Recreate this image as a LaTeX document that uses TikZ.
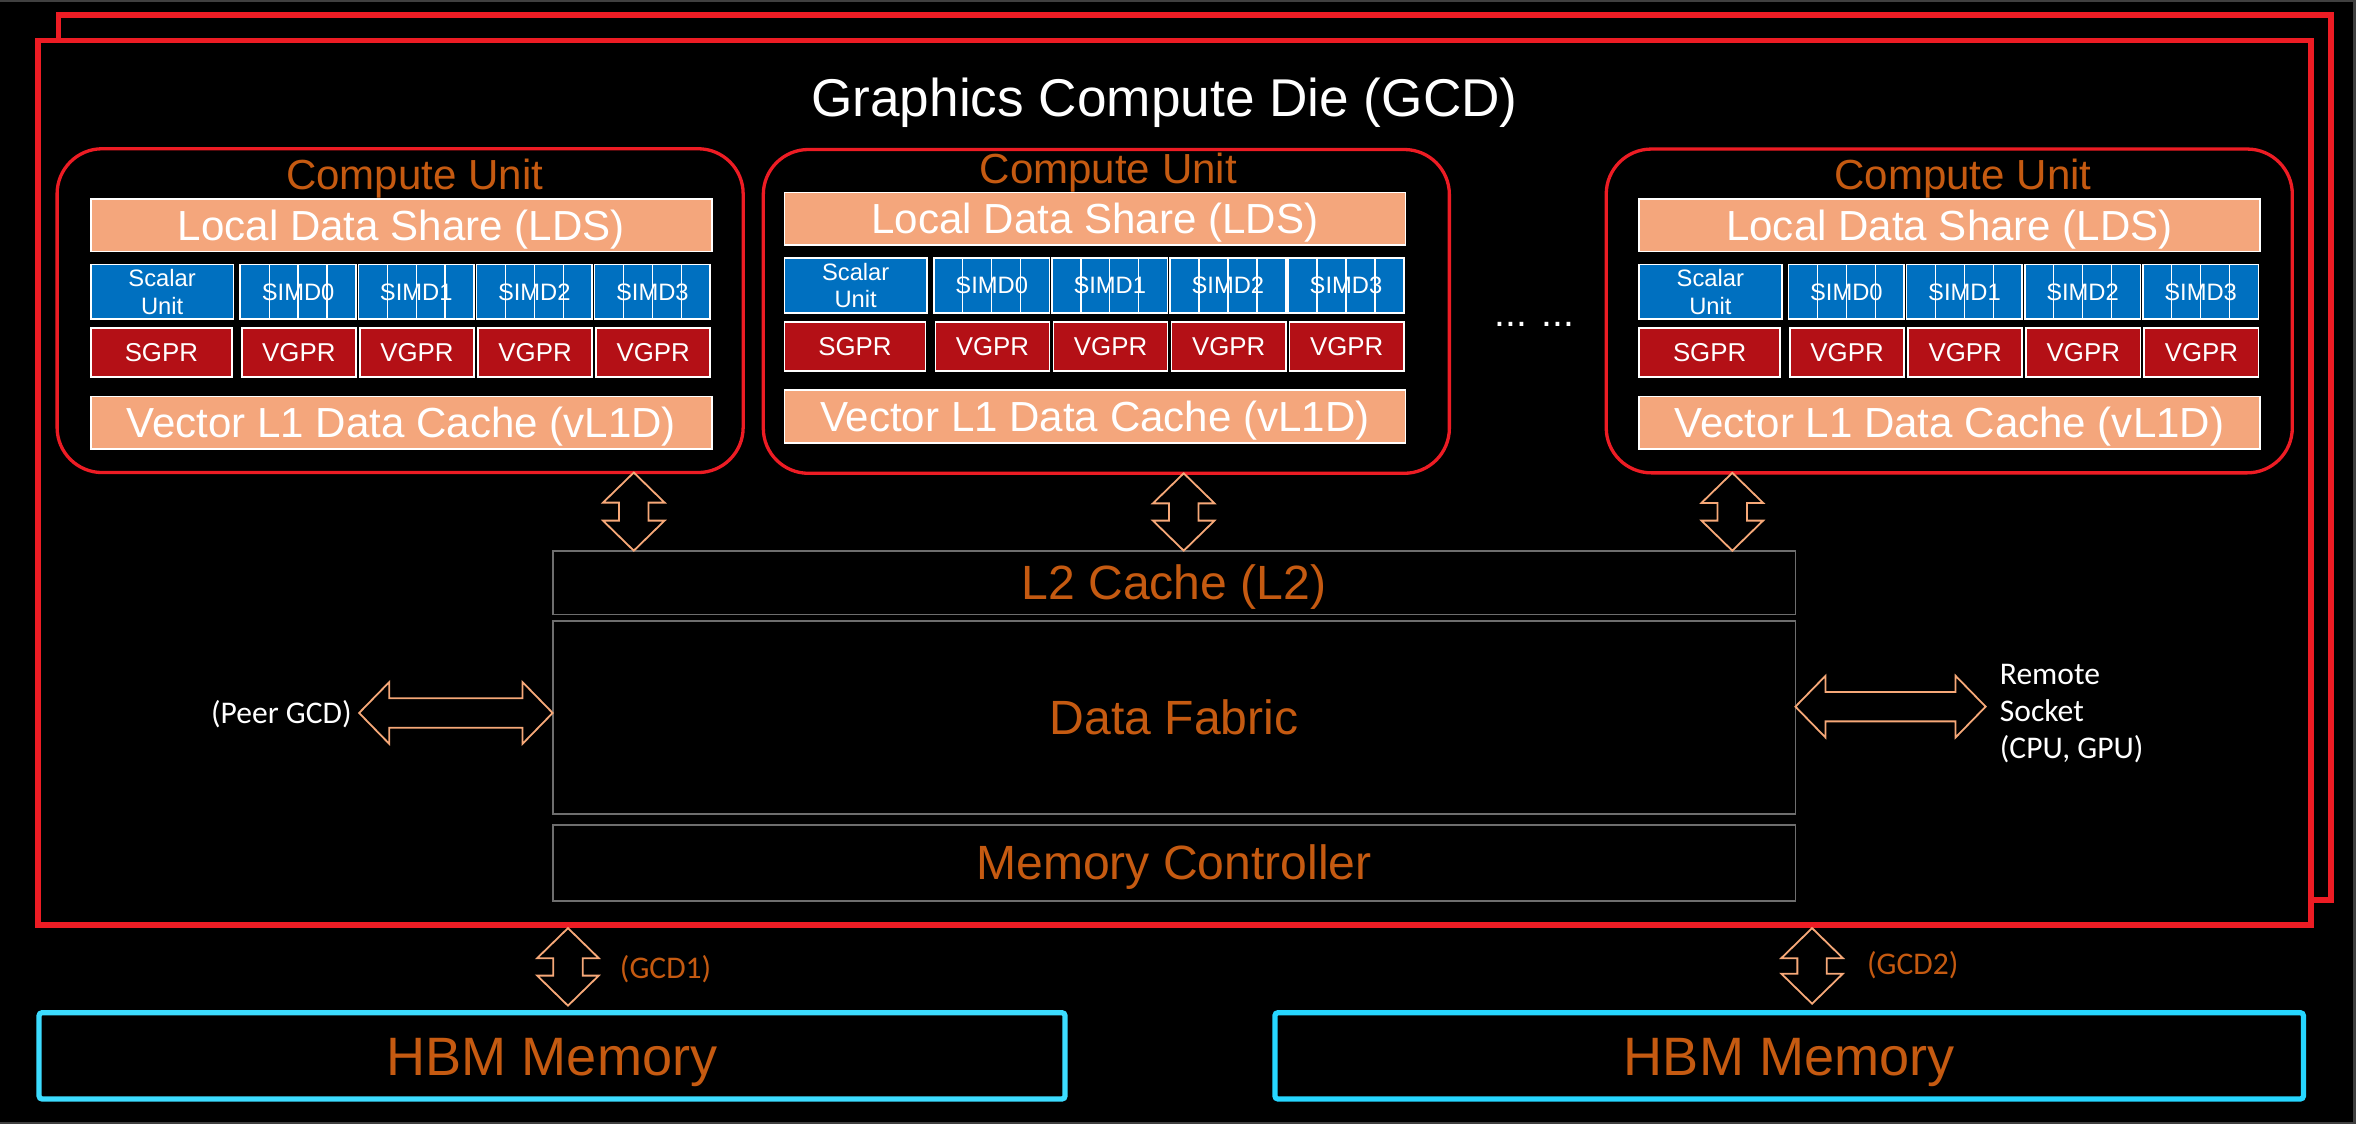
\documentclass[tikz,border=0pt]{standalone}
\usepackage{fontspec}
\setmainfont{Liberation Sans}
\newfontfamily\calibri{Carlito}
\usepackage{tikz}
\usetikzlibrary{calc,positioning}

\definecolor{diered}{RGB}{237,28,36}
\definecolor{cuorange}{RGB}{197,90,17}
\definecolor{ldssalmon}{RGB}{244,166,124}
\definecolor{simdblue}{RGB}{0,112,192}
\definecolor{gprred}{RGB}{180,16,22}
\definecolor{linkorange}{RGB}{246,168,120}
\definecolor{boxgray}{RGB}{110,110,110}
\definecolor{hbmcyan}{RGB}{60,220,255}
\definecolor{hbmcyantwo}{RGB}{38,214,255}
\definecolor{framegray}{RGB}{64,64,64}

\begin{document}
\begin{tikzpicture}[x=0.5pt, y=-0.5pt,
    every node/.style={inner sep=0pt, outer sep=0pt},
    diebox/.style={draw=diered, line width=1.9pt, fill=black, anchor=north west, outer sep=0.95pt,
      minimum width=756.2pt, minimum height=294.4pt},
    cubox/.style={draw=diered, line width=1.1pt, rounded corners=15pt, anchor=north west,
      minimum width=228.3pt, minimum height=107.75pt},
    cutitle/.style={text=cuorange, font=\fontsize{14}{16}\selectfont, text height=10pt, text depth=0pt},
    cellbox/.style={draw=white, line width=0.55pt, anchor=north west, text=white},
    ldsbox/.style={cellbox, fill=ldssalmon, minimum width=206.65pt, minimum height=17.5pt,
      font=\fontsize{14}{16}\selectfont, text height=10pt, text depth=0pt},
    scalarbox/.style={cellbox, fill=simdblue, minimum width=47.5pt, minimum height=18.25pt,
      align=center, font=\fontsize{7.9}{9.2}\selectfont},
    simdbox/.style={cellbox, fill=simdblue, minimum width=38.5pt, minimum height=18.25pt,
      font=\fontsize{7.9}{9.2}\selectfont, text height=5.66pt, text depth=0pt},
    sgprbox/.style={cellbox, fill=gprred, minimum width=47pt, minimum height=16.25pt,
      font=\fontsize{8.6}{10}\selectfont, text height=6.16pt, text depth=0pt},
    vgprbox/.style={sgprbox, minimum width=38pt},
    lane/.style={draw=white, line width=0.45pt},
    membox/.style={draw=boxgray, line width=0.6pt, anchor=north west, minimum width=413.55pt,
      text=cuorange, font=\fontsize{16}{19}\selectfont, text height=11.46pt, text depth=0pt},
    hbmbox/.style={line width=1.75pt, rounded corners=1pt, anchor=north west, minimum height=28.7pt,
      text=cuorange, font=\fontsize{18}{21}\selectfont, text height=12.9pt, text depth=0pt},
    sidelabel/.style={font=\calibri\fontsize{10.5}{12.3}\selectfont},
    dblarrow/.style={draw=linkorange, line width=0.6pt, fill=black, to path={
      -- ($(\tikztostart)!10pt!(\tikztotarget)!10.25pt!90:(\tikztotarget)$)
      -- ($(\tikztostart)!10pt!(\tikztotarget)!4.9pt!90:(\tikztotarget)$)
      -- ($(\tikztotarget)!10pt!(\tikztostart)!4.9pt!-90:(\tikztostart)$)
      -- ($(\tikztotarget)!10pt!(\tikztostart)!10.25pt!-90:(\tikztostart)$)
      -- (\tikztotarget)
      -- ($(\tikztotarget)!10pt!(\tikztostart)!10.25pt!90:(\tikztostart)$)
      -- ($(\tikztotarget)!10pt!(\tikztostart)!4.9pt!90:(\tikztostart)$)
      -- ($(\tikztostart)!10pt!(\tikztotarget)!4.9pt!-90:(\tikztotarget)$)
      -- ($(\tikztostart)!10pt!(\tikztotarget)!10.25pt!-90:(\tikztotarget)$)
      -- cycle}}]

  % canvas and frame
  \useasboundingbox (0,0) rectangle (1568,748);
  \fill[black] (0,0) rectangle (1568,748);
  \fill[framegray] (0,0) rectangle (1568,1.6);
  \fill[framegray] (1565.8,0) rectangle (1568,748);
  \fill[framegray] (0,746.6) rectangle (1568,748);

  % stacked dies
  \node[diebox] (gcdback) at (37.1,8.1) {};
  \node[diebox] (gcd) at (23.6,25.1) {};
  \node[text=white, font=\fontsize{17.7}{21}\selectfont, anchor=base] (gcdtitle) at (775,77.6) {Graphics Compute Die (GCD)};

  % compute units
  \foreach \i/\bx/\by/\ox/\oy in {1/38/99/60.4/132.5, 2/508/99.5/522/128.2, 3/1069/99.2/1090.8/132.5} {
    \node[cubox] (cu\i) at (\bx,\by) {};
    \node[cutitle] (cutitle\i) at (\ox+215.6,\oy-16.3) {Compute Unit};
    \node[ldsbox] (lds\i) at (\ox,\oy) {Local Data Share (LDS)};
    \node[scalarbox] (scalar\i) at (\ox,\oy+43.5) {Scalar\\Unit};
    \node[sgprbox] (sgpr\i) at (\ox,\oy+86) {SGPR};
    \foreach \j in {0,...,3} {
      \node[simdbox] (simd\i\j) at (\ox+99.5+78.6*\j,\oy+43.5) {SIMD\j};
      \foreach \f in {0.25,0.5,0.75}
        \draw[lane] ($(simd\i\j.north west)!\f!(simd\i\j.north east)$) -- ($(simd\i\j.south west)!\f!(simd\i\j.south east)$);
      \node[vgprbox] (vgpr\i\j) at (\ox+100.5+78.6*\j,\oy+86) {VGPR};
    }
    \node[ldsbox] (vl1d\i) at (\ox,\oy+131.5) {Vector L1 Data Cache (vL1D)};
  }
  \node[text=white, font=\fontsize{13}{15}\selectfont, anchor=base] (moredots) at (1021.2,217.2) {... ...};

  % memory hierarchy
  \node[membox, minimum height=21.25pt] (l2) at (367.8,366.5) {L2 Cache (L2)};
  \node[membox, minimum height=64.35pt] (df) at (367.8,413.3) {Data Fabric};
  \node[membox, minimum height=25.4pt] (mc) at (367.8,548.8) {Memory Controller};
  \node[hbmbox, draw=hbmcyan, minimum width=341.4pt] (hbm1) at (26,674) {HBM Memory};
  \node[hbmbox, draw=hbmcyantwo, minimum width=342.25pt] (hbm2) at (848.5,674) {HBM Memory};

  % side labels
  \node[sidelabel, text=white, anchor=east, inner xsep=2.5pt, text height=6.76pt, text depth=0pt] (peer) at (239,474.5) {(Peer GCD)};
  \node[sidelabel, text=white, anchor=west, inner xsep=4.75pt, align=left] (remote) at (1321.5,475) {Remote\\Socket\\(CPU, GPU)};
  \node[sidelabel, text=cuorange, anchor=west, text height=6.76pt, text depth=0pt] (gcd1lbl) at (412.6,644.2) {(GCD1)};
  \node[sidelabel, text=cuorange, anchor=west, text height=6.76pt, text depth=0pt] (gcd2lbl) at (1242.6,641.5) {(GCD2)};

  % links
  \coordinate (cuport1) at (421.8,0);
  \coordinate (cuport2) at (787.8,0);
  \coordinate (cuport3) at (1152.9,0);
  \coordinate (hbmport1) at (378,669.3);
  \coordinate (hbmport2) at (1206,668);
  \coordinate (socketport) at (1321.5,470.3);
  \foreach \i in {1,2,3}
    \draw[dblarrow] (cu\i.south -| cuport\i) to (l2.north -| cuport\i);
  \draw[dblarrow] (peer.east) to (peer.east -| df.west);
  \draw[dblarrow] (df.east |- socketport) to (socketport);
  \draw[dblarrow] (gcd.south -| hbmport1) to (hbmport1);
  \draw[dblarrow] (gcd.south -| hbmport2) to (hbmport2);
\end{tikzpicture}
\end{document}
